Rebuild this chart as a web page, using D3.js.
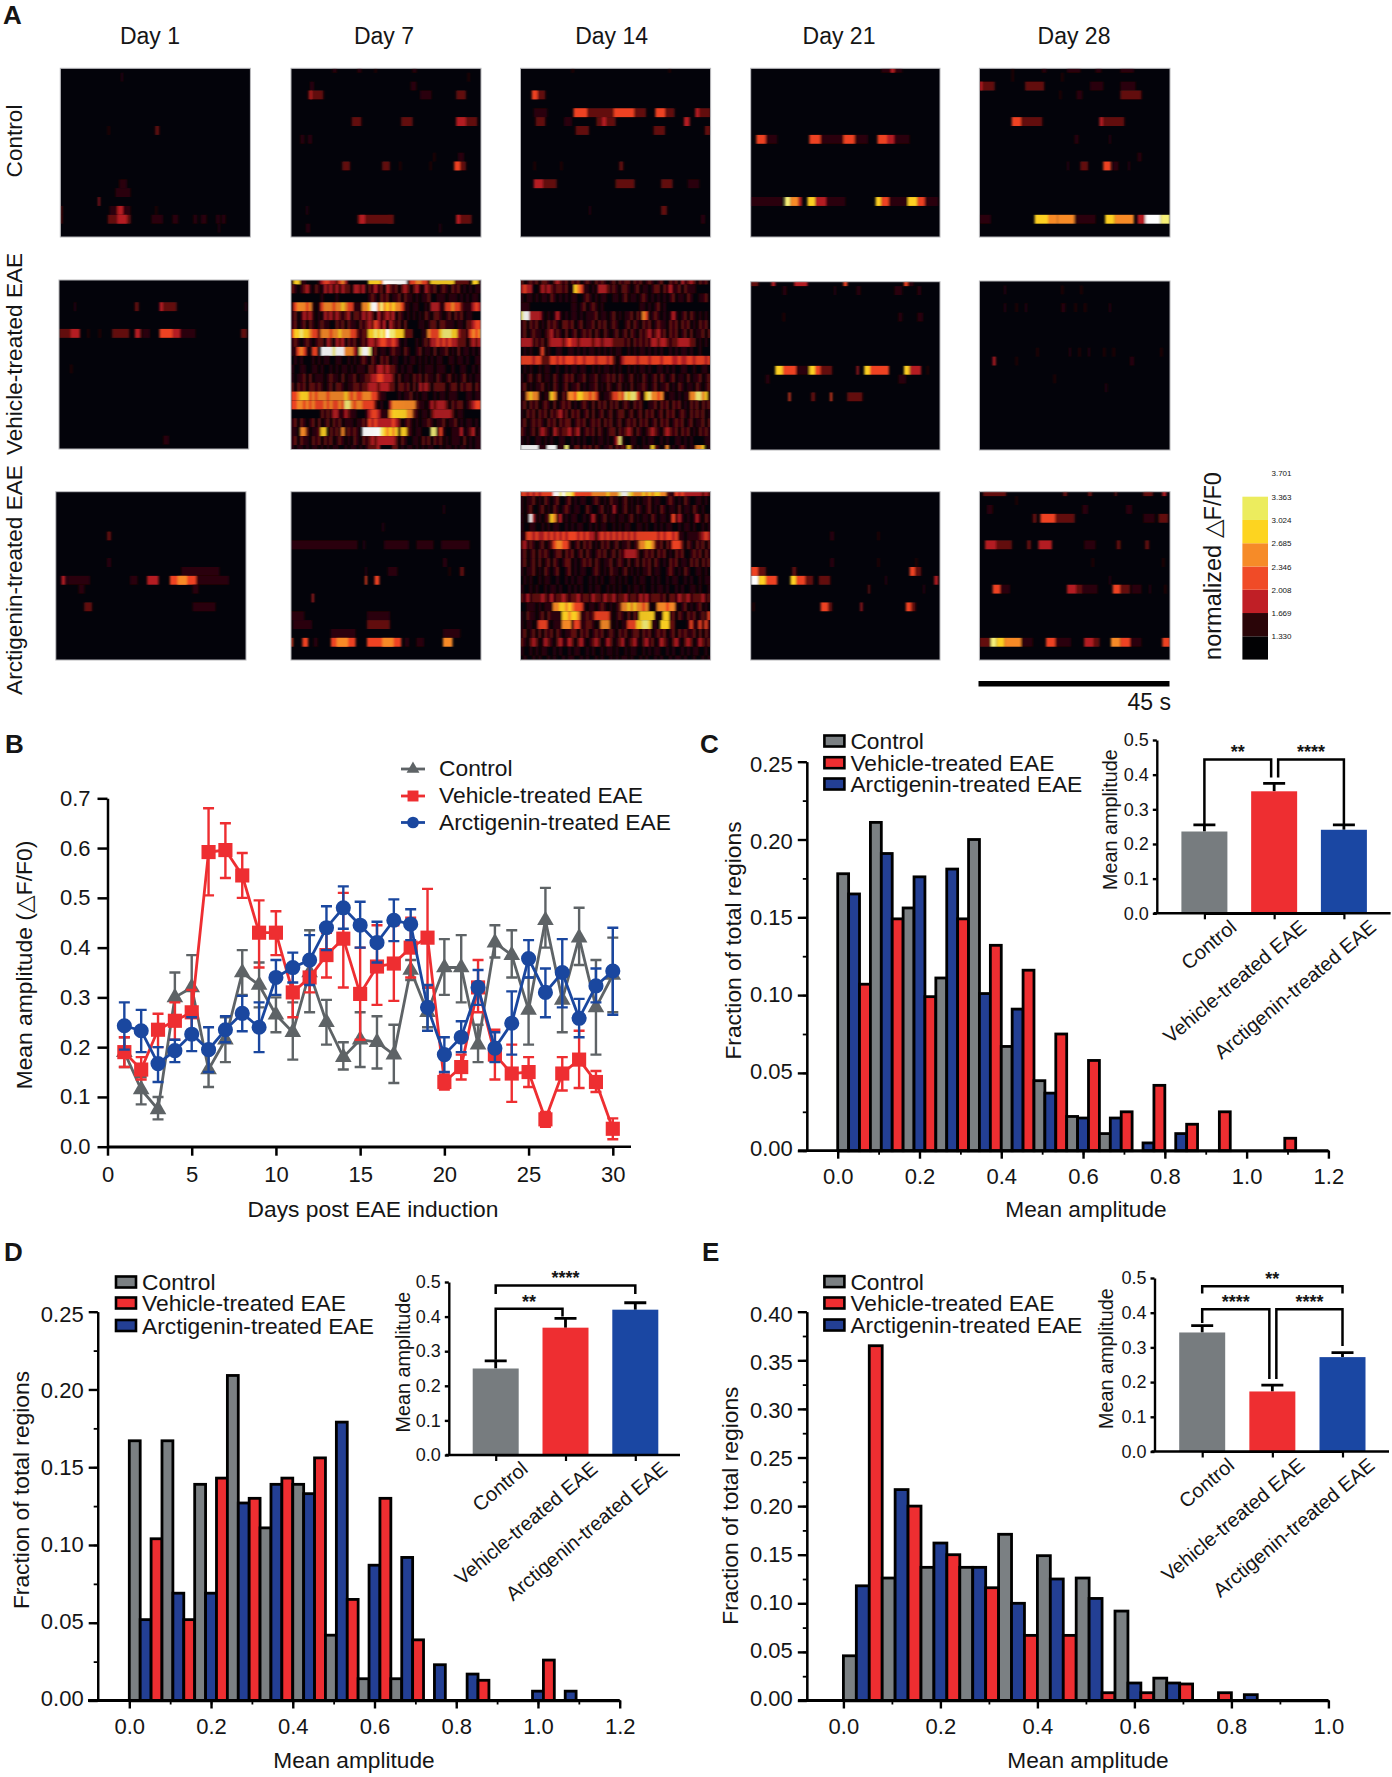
<!DOCTYPE html>
<html>
<head>
<meta charset="utf-8">
<script src="https://cdn.jsdelivr.net/npm/d3@7"></script>
<style>
body { margin: 0; background: #fff; }
svg { display: block; }
text { font-family: "Liberation Sans", Arial, sans-serif; fill: #151515; }
.bold { font-weight: bold; }
</style>
</head>
<body>
<div id="my_dataviz"></div>
<script>
// ---- labels ----
var groups = ["Control", "Vehicle-treated EAE", "Arctigenin-treated EAE"];
var dayLabels = ["Day 1", "Day 7", "Day 14", "Day 21", "Day 28"];

// ---- panel A, colour levels and colour bar ----
var heatColors = ["#03030a", "#2c0609", "#62100f", "#b41e21", "#ee4223", "#f78a28", "#fdd020", "#f5ef78", "#ffffff"];
var barTicks = [3.701, 3.363, 3.024, 2.685, 2.346, 2.008, 1.669, 1.330];
var barEdges = [0.991, 1.330, 1.669, 2.008, 2.346, 2.685, 3.024, 3.363];
var barColors = ["#020204", "#2a0508", "#c01f26", "#f04b27", "#f68b28", "#fdd420", "#ecec5e"];

// sparse panels: [region, start %, end %, level]
var ctrlD1 = [[1,32,33,1],[7,50,52,2],[7,25,26,1],[13,31,35,1],[14,29,37,1],[15,20,20.8,3],[16,26,37,1],[16,30,33,3],[16,50,51,1],[16,0,1,2],
  [17,0,1,2],[17,25,37,2],[17,30,35,3],[17,48,54,1],[17,59,62,1],[17,70,72,1],[17,74,77,1],[17,82,84,1],[17,85,87,1],[18,83,84,1]];
var ctrlD7 = [[0,22,24,1],[0,35,37,1],[0,44,45,1],[0,64,66,1],[1,93,94,1],[2,10,12,1],[2,63,66,1],[3,9,17,2],[3,10,11,3],[3,68,74,1],[3,87,92,2],
  [6,32,37,2],[6,58,64,2],[6,87,98,2],[6,87,92,3],[8,5,7,1],[8,9,11,1],[10,75,76,1],[10,88,91,1],[11,27,31,2],[11,48,52,2],[11,57,58,1],[11,73,74,1],[11,86,92,2],[11,86,89,4],
  [16,8,9,1],[17,35,54,2],[17,36,39,3],[17,51,54,2],[17,87,95,2],[17,87,89,3],[18,8,10,1],[18,78,79,1]];
var ctrlD14 = [[0,27,28,1],[0,78,79,1],[3,6,13,2],[3,6,9,4],[5,7,14,1],[5,28,49,2],[5,28,35,4],[5,49,60,4],[5,60,66,2],[5,71,81,2],[5,71,76,4],[5,92,100,2],[5,92,94,3],
  [6,8,13,2],[6,23,27,1],[6,40,50,2],[6,43,45,3],[6,86,89,3],[7,29,36,2],[7,70,76,2],[7,97,100,2],[11,7,8,1],[11,21,22,1],[11,52,54,2],
  [13,7,12,3],[13,12,19,2],[13,50,60,2],[13,74,80,2],[13,88,94,1],[16,36,37,1],[16,74,77,2],[17,95,97,1]];
var ctrlD21 = [[0,69,80,1],[0,74,76,3],[8,3,8,4],[8,8,14,1],[8,31,37,4],[8,37,49,1],[8,49,55,4],[8,55,62,1],[8,67,72,4],[8,72,76,3],[8,76,84,1],
  [15,0,17,1],[15,18,21,7],[15,21,25,5],[15,25,27,3],[15,30,34,6],[15,34,40,3],[15,40,50,1],[15,66,69,6],[15,69,73,4],[15,73,83,1],[15,83,88,6],[15,88,92,4],[15,92,99,1]];
var ctrlD28 = [[0,17,18,1],[0,33,35,1],[0,46,53,1],[0,61,64,1],[0,74,81,1],[1,17,18,1],[1,43,44,1],[2,0,8,2],[2,0,1.5,3],[2,24,34,2],[2,58,65,1],[2,74,82,1],[3,42,43,1],[3,51,54,1],[3,74,85,2],
  [6,17,22,4],[6,22,33,2],[6,63,65,3],[6,65,76,2],[8,50,52,1],[8,68,69,1],[10,83,85,1],[11,46,47,1],[11,53,57,2],[11,65,69,4],[11,70,73,1],[11,78,79,1],
  [17,0,6,1],[17,29,36,6],[17,36,41,5],[17,41,50,5],[17,50,61,1],[17,66,71,6],[17,71,81,5],[17,83,87,3],[17,87,95,8],[17,95,100,7]];
var vehD1 = [[3,8,9,1],[3,40,42,2],[3,53,55,3],[3,55,62,2],[3,98,99,1],[6,0,6,2],[6,6,11,3],[6,15,16,1],[6,21,22,1],[6,28,37,2],[6,40,43,3],[6,44,48,1],[6,53,60,4],[6,60,64,3],[6,64,72,1],[6,96,99,2],[10,6,7,1],[18,55,58,1]];
var vehD21 = [[0,0,4,2],[0,11,13,3],[0,23,30,3],[0,49,51,4],[0,81,83,4],[0,83,86,1],[1,17,19,1],[1,44,45,1],[1,56,58,1],[1,76,80,1],[1,88,90,1],[4,17,18,1],[4,78,80,1],[4,88,91,1],
  [10,13,17,6],[10,17,24,4],[10,24,31,1],[10,31,34,6],[10,34,37,4],[10,37,43,2],[10,56,57,3],[10,60,63,6],[10,63,73,4],[10,81,84,6],[10,84,90,3],[10,93,94,1],[11,8,10,1],[11,78,82,1],
  [13,20,21,4],[13,32,34,2],[13,42,43,4],[13,51,59,2]];
var vehD28 = [[1,13,14,1],[1,43,44,1],[1,53,54,1],[3,13,14,1],[3,19,20,1],[3,24,25,1],[3,43,45,1],[3,50,51,1],[3,55,56,1],[3,68,69,1],[8,30,31,1],[8,47,48,1],[8,52,53,1],[8,57,58,1],[8,65,66,1],[8,70,71,1],[8,95,96,1],
  [9,7,8.5,3],[9,19,20,1],[9,79,81,1],[11,39,40,1],[12,66,67,1]];
var arcD1 = [[5,27,29,2],[8,27,29,1],[9,66,86,1],[10,3,5,3],[10,6,18,1],[10,39,43,1],[10,48,54,3],[10,60,74,4],[10,64,69,5],[10,74,91,1],[11,12,15,1],[11,72,75,1],[13,15,19,2],[13,72,84,1]];
var arcD7 = [[2,80,81,1],[4,48,49,1],[6,0,35,1],[6,38,39,1],[6,49,62,1],[6,66,75,1],[6,79,94,1],[8,80,82,1],[9,39,40,1],[9,51,56,1],[9,83,84,1],[9,89,91,2],[10,39,40,4],[10,44,46.5,4],[12,11,12,3],
  [14,0,7,1],[14,40,52,1],[15,1,11,1],[15,40,52,2],[16,21,34,1],[16,80,89,1],[17,0,1,4],[17,6,9,4],[17,12,14,1],[17,21,34,4],[17,24,30,5],[17,40,58,4],[17,48,54,5],[17,60,62,1],[17,66,70,1],[17,80,85,5]];
var arcD21 = [[5,42,44,1],[5,67,68,1],[8,42,44,1],[8,67,68,1],[8,87,88,1],[9,0,4,4],[9,4,8,2],[9,22,24,2],[9,84,87,4],[9,87,90,2],[10,0,4,8],[10,4,8,6],[10,8,14,4],[10,21,24,6],[10,24,29,4],[10,29,33,2],[10,36,42,2],[10,71,72,1],[10,97,99,3],
  [11,62,63,2],[11,91,92,1],[13,1,2,1],[13,37,41,4],[13,41,43,2],[13,58,59,3],[13,82,85,4],[13,85,87,2]];
var arcD28 = [[0,2,14,2],[0,44,46,2],[0,57,59,2],[0,71,72,2],[0,86,91,2],[0,96,98,3],[1,19,20,1],[2,4,7,1],[2,54,57,1],[2,77,80,1],[3,28,30,2],[3,32,40,4],[3,40,50,2],[3,86,92,1],[3,94,99,2],
  [6,3,9,3],[6,9,17,2],[6,25,27,2],[6,31,38,3],[6,55,61,1],[6,72,74,2],[6,87,89,2],[8,59,60,1],[8,96,97,1],[10,68,69,1],
  [11,7,11,4],[11,11,16,1],[11,46,51,3],[11,51,54,2],[11,54,62,1],[11,70,74,4],[11,74,79,2],[11,80,85,1],[11,89,90,1],[11,97,98,1],
  [17,0,6,2],[17,6,9,7],[17,9,13,6],[17,13,22,5],[17,22,28,1],[17,35,40,4],[17,40,48,1],[17,55,60,3],[17,60,63,2],[17,69,74,5],[17,74,79,4],[17,79,85,1],[17,96,100,4]];

// dense panels: one string per region, one digit per time step
var vehD7 = [
  "1661100001344332453000000066665888888881445544166666666222220661",
  "2101231021032313132203323021312032120232023103212012102120101011",
  "0000000000100001000000000012102120112021101011200111011101010110",
  "1455545101455545565441115568857565655411011001033311445442111343",
  "1201323101032313212302213232031232302101010102102210120212011000",
  "1201202101211002120211021232431303212020000110122022111011022344",
  "4667665442555455655544212266767687766622200011544467776632214545",
  "1210121012203203230212012133234433431010001012133434343322202323",
  "1145410440888878885553178871201101211021001201102011201020110101",
  "0101000101011001100101012102102120110010110101010110011011010011",
  "1001100110100101011010111022133232210101100101110111001001100101",
  "1011202011101211020112011223344333202011021202110210120101201011",
  "2021202212101202210112212233323332202212020323202222012202122021",
  "4456664545554555556545445554421100001011201011001011011100011011",
  "4455454544454544547754554444201003555555552110132333202122012344",
  "0000000000212133113211000134431115666665521011023333332011000000",
  "1202101202012021201110112143433333432012101011210112011201011010",
  "1105520112660212151212108888887656561662101100077141001113012301",
  "1202110212021201210102102123233333320210011021202120101110201011",
  "1011010110101011001011010122230000220101101010110010110101101011"
];
var vehD14 = [
  "2012120221023212021201210212101202122021201210120021203123202120",
  "3433001323212212016541101033321210221012011012202131120211100000",
  "1011010110210101011001210101100110120110121010101012011021001120",
  "1110000000000000011012012101000000000000110101201000000000000000",
  "7883333101013101011010111201101201011202154012101013101202101010",
  "1202120102121022120120112021201210012021021201211021202120102120",
  "1201211012312102012012120210210120120210212312312021201202011202",
  "3333121202333323433233332332333222212021212133233212233332201010",
  "0101001401001100110101011010101011001010110101010010101101001000",
  "4444344222443434443443444344434201344443444344434443343344344434",
  "0101001011001001011011001010110101001010110100110101001100100110",
  "1012012011021012120112011201121202101201021012021012011020112012",
  "1201011201021012011201011201021012010201121012011201021011021012",
  "1156551011651021554665545410112445476774116755451011010115577561",
  "1202120121020121201012102021202120121021200112021202120102120212",
  "1021202120212312021201202012012012201201202120120212012102121201",
  "1201212102120212201212012120212012012120212012021201212012011202",
  "2101202321032122312301212021012202123202101232102321202120102121",
  "1010011010100110010101001011010137100110010110010100110101000011",
  "8888881118881117102202120210112021216201011162101501012101155601"
];
var arcD14 = [
  "4434343444488787764444445555565557887655565656655211434333333232",
  "1011201021012001201011001210102110120101011201100121010210011010",
  "1012001201021012101100210012010310120102101201021011020110210100",
  "1018301012651301011001013101201101101201011021011014131010131021",
  "1001100101011001010110010101100101011001101001010110010110100101",
  "1144343343434343444343433134343434343434444444343443411011112343",
  "2312101201245544201202120102120120112012556652120214442021021202",
  "1201202121012202120120210121201202133332012120212010212001212021",
  "1201202012021012201012120210112012102012021202101021201102120212",
  "1011201021012001201011001210102110120101011201100121010210011010",
  "0101001011001001010110010101001101010010110010100101100101001011",
  "1001010010110100101010010110010101001011010010110100101001101001",
  "2131222321312232122312213221322312231221323122212022132231222312",
  "0011101011155665654441011012101012556565545101555455101201012010",
  "1021101202111166566511212444441012102021666661016612021021201214",
  "1011014441011155514411221015551010114446677611066622000014114141",
  "1201202021202101122021201212012102120122021201212012021211202021",
  "2102320132102311320231012320132012301231023120132102310232013212",
  "1001010110010100101100101001011010010110010101100101001010110010",
  "0100101001010010110010100101001010110100101001010010110100100101"
];

// ---- panel B ----
var bDays = [1,2,3,4,5,6,7,8,9,10,11,12,13,14,15,16,17,18,19,20,21,22,23,24,25,26,27,28,29,30];
var bControl = [.19,.115,.075,.30,.32,.155,.215,.35,.325,.265,.23,.35,.25,.18,.215,.21,.185,.355,.27,.36,.36,.205,.41,.385,.275,.455,.295,.42,.28,.345];
var bControlLow = [.16,.085,.055,.25,.26,.12,.17,.305,.28,.23,.175,.27,.205,.155,.16,.157,.128,.335,.24,.305,.29,.17,.38,.34,.205,.40,.23,.365,.185,.27];
var bControlHigh = [.22,.14,.10,.35,.385,.19,.26,.395,.37,.30,.29,.435,.295,.21,.27,.262,.245,.375,.32,.417,.425,.245,.445,.435,.34,.52,.355,.48,.375,.42];
var bVehicle = [.19,.155,.235,.253,.27,.592,.596,.545,.43,.43,.31,.34,.385,.418,.307,.362,.368,.40,.42,.13,.16,.32,.185,.147,.15,.055,.147,.175,.13,.036];
var bVehicleLow = [.16,.135,.20,.215,.225,.505,.54,.50,.36,.385,.26,.31,.34,.32,.215,.285,.293,.34,.32,.115,.135,.27,.135,.09,.12,.04,.113,.118,.11,.015];
var bVehicleHigh = [.22,.18,.267,.29,.315,.68,.65,.59,.495,.473,.36,.37,.43,.51,.40,.445,.445,.46,.518,.145,.185,.375,.235,.205,.18,.07,.18,.233,.152,.057];
var bArctigenin = [.243,.233,.167,.193,.226,.195,.235,.268,.24,.34,.36,.375,.44,.48,.445,.41,.455,.447,.28,.185,.22,.32,.198,.248,.378,.31,.35,.258,.323,.353];
var bArctigeninLow = [.195,.19,.13,.17,.192,.15,.21,.232,.19,.305,.33,.325,.395,.438,.40,.37,.413,.415,.233,.15,.19,.285,.17,.185,.34,.26,.28,.22,.29,.265];
var bArctigeninHigh = [.29,.275,.20,.215,.26,.24,.262,.303,.29,.375,.39,.425,.483,.523,.492,.452,.497,.477,.325,.22,.252,.355,.23,.312,.415,.358,.417,.297,.358,.44];

// ---- histograms, one value per 0.08 wide bin ----
var cControl = [.178,.211,.156,.111,.200,.067,.045,.022,.011,0,0,0,0,0];
var cArctigenin = [.165,.191,.176,.181,.101,.091,.037,.021,.021,.005,.011,0,0,0];
var cVehicle = [.107,.149,.099,.149,.132,.116,.075,.058,.025,.042,.017,.025,0,.008];
var dControl = [.167,.167,.139,.209,.111,.139,.042,.014,.014,0,0,0,0,0];
var dArctigenin = [.052,.069,.069,.127,.139,.133,.179,.087,.092,.023,.017,0,.006,.006];
var dVehicle = [.104,.052,.143,.130,.143,.156,.065,.130,.039,0,.013,0,.026,0];
var eControl = [.046,.126,.137,.137,.171,.149,.126,.092,.023,0,0];
var eArctigenin = [.118,.217,.162,.137,.100,.125,.105,.018,.018,0,.006];
var eVehicle = [.365,.200,.150,.116,.067,.067,.008,.008,.017,.008,0];

// ---- inset bars ----
var cMeans = [.236,.352,.241], cTops = [.255,.375,.255];
var dMeans = [.25,.368,.42], dTops = [.272,.395,.44];
var eMeans = [.343,.173,.272], eTops = [.363,.191,.285];
// from group, to group, bracket height, foot heights, stars
var cComp = [[0,1,.444,.252,.392,"**"],[1,2,.444,.392,.258,"****"]];
var dComp = [[0,1,.4226,.275,.40,"**"],[0,2,.49,.465,.465,"****"]];
var eComp = [[0,1,.41,.37,.209,"****"],[1,2,.41,.209,.304,"****"],[0,2,.476,.455,.455,"**"]];

var grey = "#7b8083", red = "#ee2e31", blue = "#233f94", insetBlue = "#1a47a3";
var lineGrey = "#5e6366", lineBlue = "#1a479f";

var svg = d3.select("#my_dataviz").append("svg").attr("width", 1392).attr("height", 1777);
var defs = svg.append("defs");
defs.append("filter").attr("id", "soft").append("feGaussianBlur").attr("stdDeviation", "0.8 0.6");

// Puts a piece of text on the page, rotated around its anchor if asked
function addText(str, x, y, size, anchor, rotate, cls) {
    var t = svg.append("text").text(str)
        .attr("font-size", size)
        .attr("text-anchor", anchor || "start")
        .attr("transform", "translate(" + x + "," + y + ")" + (rotate ? " rotate(" + rotate + ")" : ""));
    if (cls) t.attr("class", cls);
    return t;
}

// ---- panel A ----
var heatColor = d3.scaleOrdinal(d3.range(9), heatColors);

function drawHeat(id, cells, x0, x1, y0, y1) {
    var t = d3.scaleLinear().domain([0, 100]).range([x0, x1]);
    var r = d3.scaleLinear().domain([0, 19]).range([y0, y1]);
    var h = r(1) - r(0);

    // dense panels come as strings, turn them into the same cell form
    if (typeof cells[0] === "string") {
        var parsed = [];
        cells.forEach(function (row, i) {
            row.split("").forEach(function (c, j) {
                parsed.push([i, j * 100 / row.length, (j + 1) * 100 / row.length, +c]);
            });
        });
        cells = parsed;
    }

    defs.append("clipPath").attr("id", id).append("rect")
        .attr("x", x0).attr("y", y0).attr("width", x1 - x0).attr("height", y1 - y0);

    var g = svg.append("g").attr("clip-path", "url(#" + id + ")");
    g.append("rect").attr("x", x0).attr("y", y0).attr("width", x1 - x0).attr("height", y1 - y0).attr("fill", heatColors[0]);
    g.append("g").attr("filter", "url(#soft)")
        .selectAll("rect").data(cells.filter(function (d) { return d[3] > 0; })).join("rect")
        .attr("x", function (d) { return t(d[1]); })
        .attr("width", function (d) { return t(d[2]) - t(d[1]); })
        .attr("y", function (d) { return r(d[0]) - h / 2; })
        .attr("height", h)
        .attr("fill", function (d) { return heatColor(d[3]); });
    svg.append("rect").attr("x", x0).attr("y", y0).attr("width", x1 - x0).attr("height", y1 - y0)
        .attr("fill", "none").attr("stroke", "#b5b5b8").attr("stroke-width", 1);
}

var cols = [[291, 481], [520.5, 710.6], [750.7, 940], [979.4, 1170]];
drawHeat("h00", ctrlD1, 60.3, 250.4, 68.3, 237);
drawHeat("h01", ctrlD7, cols[0][0], cols[0][1], 68.3, 237);
drawHeat("h02", ctrlD14, cols[1][0], cols[1][1], 68.3, 237);
drawHeat("h03", ctrlD21, cols[2][0], cols[2][1], 68.3, 237);
drawHeat("h04", ctrlD28, cols[3][0], cols[3][1], 68.3, 237);
drawHeat("h10", vehD1, 59, 248.7, 280, 449);
drawHeat("h11", vehD7, cols[0][0], cols[0][1], 280, 449.5);
drawHeat("h12", vehD14, cols[1][0], cols[1][1], 280, 449.5);
drawHeat("h13", vehD21, cols[2][0], cols[2][1], 281.7, 450);
drawHeat("h14", vehD28, cols[3][0], cols[3][1], 281, 450);
drawHeat("h20", arcD1, 55.8, 246, 491.7, 660);
drawHeat("h21", arcD7, cols[0][0], cols[0][1], 491.7, 660);
drawHeat("h22", arcD14, cols[1][0], cols[1][1], 491.7, 660);
drawHeat("h23", arcD21, cols[2][0], cols[2][1], 491.7, 660);
drawHeat("h24", arcD28, cols[3][0], cols[3][1], 491.7, 660);

[150, 384, 611.6, 839, 1074].forEach(function (x, i) {
    addText(dayLabels[i], x, 44, 23, "middle");
});
addText(groups[0], 22, 141, 22.6, "middle", -90);
addText(groups[1], 22, 354, 22.6, "middle", -90);
addText(groups[2], 22, 580, 22.6, "middle", -90);

// scale bar and colour bar
svg.append("rect").attr("x", 978.5).attr("y", 681).attr("width", 191).attr("height", 5.5).attr("fill", "#000");
addText("45 s", 1171, 710, 23, "end");
addText("normalized △F/F0", 1221, 566, 23.5, "middle", -90);

var barY = d3.scaleLinear().domain([1.330, 3.363]).range([636.3, 496.7]);
barColors.forEach(function (c, i) {
    var top = barY(i + 1 < barEdges.length ? barEdges[i + 1] : barEdges[i]);
    svg.append("rect").attr("x", 1242.4).attr("width", 25.6)
        .attr("y", top).attr("height", barY(barEdges[i]) - top).attr("fill", c);
});
barTicks.forEach(function (v) {
    addText(v.toFixed(3), 1271.5, barY(v) + 3, 8, "start");
});

// ---- panel letters ----
addText("A", 3, 24, 26, "start", 0, "bold");
addText("B", 5, 753, 26, "start", 0, "bold");
addText("C", 700, 753, 26, "start", 0, "bold");
addText("D", 4, 1261, 26, "start", 0, "bold");
addText("E", 702, 1261, 26, "start", 0, "bold");

// Restyles an axis group: heavy black lines, tick label size
function styleAxis(g, size, width) {
    g.selectAll("path").attr("stroke", "#000").attr("stroke-width", width).attr("fill", "none");
    g.selectAll("line").attr("stroke", "#000").attr("stroke-width", width);
    g.selectAll("text").attr("font-size", size).attr("font-family", null);
}

// ---- panel B ----
(function () {
    var x = d3.scaleLinear().domain([0, 30]).range([107.5, 612.8]);
    var y = d3.scaleLinear().domain([0, 0.7]).range([1146.7, 798.3]);

    var gx = svg.append("g").attr("transform", "translate(0,1146.7)")
        .call(d3.axisBottom(x).tickValues([0, 5, 10, 15, 20, 25, 30]).tickFormat(d3.format("d")).tickSize(9).tickPadding(11).tickSizeOuter(0));
    styleAxis(gx, 22, 2.5);
    svg.append("line").attr("x1", x(0)).attr("x2", 631).attr("y1", y(0)).attr("y2", y(0)).attr("stroke", "#000").attr("stroke-width", 2.5);
    var gy = svg.append("g").attr("transform", "translate(107.5,0)")
        .call(d3.axisLeft(y).ticks(7).tickFormat(d3.format(".1f")).tickSize(10).tickPadding(7).tickSizeOuter(0));
    styleAxis(gy, 22, 2.5);

    addText("Days post EAE induction", 373, 1216.7, 22.8, "middle");
    addText("Mean amplitude (△F/F0)", 32, 965, 22.8, "middle", -90);

    var line = d3.line().x(function (d, i) { return x(bDays[i]); }).y(function (d) { return y(d); });

    function series(mean, low, high, color, marker) {
        var g = svg.append("g");
        g.append("path").attr("d", line(mean)).attr("fill", "none").attr("stroke", color).attr("stroke-width", 2.8);
        bDays.forEach(function (day, i) {
            var px = x(day);
            g.append("path")
                .attr("d", "M" + px + "," + y(low[i]) + "V" + y(high[i])
                    + "M" + (px - 5.5) + "," + y(low[i]) + "h11"
                    + "M" + (px - 5.5) + "," + y(high[i]) + "h11")
                .attr("stroke", color).attr("stroke-width", 2.4).attr("fill", "none");
        });
        g.selectAll(".m").data(mean).join("path")
            .attr("d", d3.symbol().type(marker.type).size(marker.size))
            .attr("transform", function (d, i) { return "translate(" + x(bDays[i]) + "," + y(d) + ")"; })
            .attr("fill", color);
    }

    var tri = {type: d3.symbolTriangle, size: 120}, sq = {type: d3.symbolSquare, size: 200}, ci = {type: d3.symbolCircle, size: 180};
    series(bControl, bControlLow, bControlHigh, lineGrey, tri);
    series(bVehicle, bVehicleLow, bVehicleHigh, red, sq);
    series(bArctigenin, bArctigeninLow, bArctigeninHigh, lineBlue, ci);

    [[lineGrey, tri, 769], [red, sq, 796], [lineBlue, ci, 822.5]].forEach(function (d, i) {
        svg.append("line").attr("x1", 401).attr("x2", 425).attr("y1", d[2]).attr("y2", d[2]).attr("stroke", d[0]).attr("stroke-width", 2.8);
        svg.append("path").attr("d", d3.symbol().type(d[1].type).size(d[1].size * 0.6)())
            .attr("transform", "translate(413," + d[2] + ")").attr("fill", d[0]);
        addText(groups[i], 439, d[2] + 7, 22.8);
    });
})();

// Draws one histogram panel with its legend, axes and titles
function drawHist(o) {
    var x = d3.scaleLinear().domain([0, o.xMax]).range([o.x0, o.x1]);
    var y = d3.scaleLinear().domain([0, o.yMax]).range([o.y0, o.y1]);
    var barW = 0.08 / 3;

    var minorX = d3.range(0, o.xMax + 0.001, 0.1);
    var minorY = d3.range(0, o.yMax + 0.001, 0.025);

    // bars are drawn bin by bin so neighbours share their outline
    o.control.forEach(function (c, k) {
        [[c, grey], [o.arctigenin[k], blue], [o.vehicle[k], red]].forEach(function (b, j) {
            if (b[0] <= 0) return;
            var left = k * 0.08 + j * barW;
            svg.append("rect").attr("x", x(left)).attr("width", x(left + barW) - x(left))
                .attr("y", y(b[0])).attr("height", y(0) - y(b[0]))
                .attr("fill", b[1]).attr("stroke", "#000").attr("stroke-width", 2.8);
        });
    });

    var gxm = svg.append("g").attr("transform", "translate(0," + o.y0 + ")")
        .call(d3.axisBottom(x).tickValues(minorX).tickFormat("").tickSize(4).tickSizeOuter(0));
    styleAxis(gxm, 0, 1.8);
    gxm.selectAll("text").remove();
    var gx = svg.append("g").attr("transform", "translate(0," + o.y0 + ")")
        .call(d3.axisBottom(x).tickValues(d3.range(0, o.xMax + 0.001, 0.2)).tickFormat(d3.format(".1f")).tickSize(8).tickPadding(10).tickSizeOuter(0));
    styleAxis(gx, 22, 2.4);
    svg.append("line").attr("x1", o.xLeft).attr("x2", o.x1).attr("y1", o.y0).attr("y2", o.y0).attr("stroke", "#000").attr("stroke-width", 2.8);

    var gym = svg.append("g").attr("transform", "translate(" + o.yAxisX + ",0)")
        .call(d3.axisLeft(y).tickValues(minorY).tickFormat("").tickSize(4).tickSizeOuter(0));
    styleAxis(gym, 0, 1.8);
    gym.selectAll("text").remove();
    var gy = svg.append("g").attr("transform", "translate(" + o.yAxisX + ",0)")
        .call(d3.axisLeft(y).tickValues(d3.range(0, o.yMax + 0.001, 0.05)).tickFormat(d3.format(".2f")).tickSize(9).tickPadding(5).tickSizeOuter(0));
    styleAxis(gy, 22, 2.4);
    // the labels sit a bit closer together than the ticks in the figure
    gy.selectAll("text").attr("dy", null)
        .attr("y", function (d) { return 7.5 + (d / o.yMax) * 5 - 3; });

    addText("Mean amplitude", o.titleX, o.titleY, 22.7, "middle");
    addText("Fraction of total regions", o.yTitleX, o.yTitleY, 22.8, "middle", -90);

    // legend
    [grey, red, blue].forEach(function (c, i) {
        svg.append("rect").attr("x", o.legX).attr("y", o.legY[i] - 5.5).attr("width", 20).attr("height", 11)
            .attr("fill", c).attr("stroke", "#000").attr("stroke-width", 2.6);
        addText(groups[i], o.legX + 26, o.legY[i] + 8, 22.8);
    });

    drawInset(o.inset);
}

// Draws the small mean +/- sem bar chart with significance brackets
function drawInset(o) {
    var y = d3.scaleLinear().domain([0, 0.5]).range([o.y0, o.y1]);
    var x = d3.scalePoint().domain(groups).range([o.bar0, o.bar2]);
    var colors = ["#777c7f", red, insetBlue];
    var barW = 46;

    groups.forEach(function (g, i) {
        svg.append("path")
            .attr("d", "M" + x(g) + "," + y(o.means[i]) + "V" + y(o.tops[i]) + "M" + (x(g) - 11) + "," + y(o.tops[i]) + "h22")
            .attr("stroke", "#000").attr("stroke-width", 2.8).attr("fill", "none");
        svg.append("rect").attr("x", x(g) - barW / 2).attr("width", barW)
            .attr("y", y(o.means[i])).attr("height", o.y0 - y(o.means[i])).attr("fill", colors[i]);
    });

    var gx = svg.append("g").attr("transform", "translate(0," + o.y0 + ")")
        .call(d3.axisBottom(x).tickSize(6).tickSizeOuter(0));
    styleAxis(gx, 20, 2.2);
    gx.selectAll("text")
        .attr("text-anchor", "end").attr("y", 0).attr("dy", 0)
        .attr("transform", "translate(33,16) rotate(-40)")
        .attr("fill", "#333");
    svg.append("line").attr("x1", o.axisX - 3).attr("x2", o.xEnd).attr("y1", o.y0).attr("y2", o.y0).attr("stroke", "#000").attr("stroke-width", 2.6);

    var gy = svg.append("g").attr("transform", "translate(" + o.axisX + ",0)")
        .call(d3.axisLeft(y).ticks(5).tickFormat(d3.format(".1f")).tickSize(4).tickPadding(4).tickSizeOuter(0));
    styleAxis(gy, 18, 2.4);

    addText("Mean amplitude", o.yTitleX, o.yTitleY, 19.8, "middle", -90);

    o.comp.forEach(function (c) {
        var xa = x(groups[c[0]]), xb = x(groups[c[1]]);
        // brackets meeting on the middle bar stay a little apart
        if (c[1] === 1) xb -= 3;
        if (c[0] === 1) xa += 4;
        svg.append("path")
            .attr("d", "M" + xa + "," + y(c[3]) + "V" + y(c[2]) + "H" + xb + "V" + y(c[4]))
            .attr("fill", "none").attr("stroke", "#000").attr("stroke-width", 2.5);
        addText(c[5], (xa + xb) / 2, y(c[2]) - 1, 18, "middle", 0, "bold");
    });
}

drawHist({
    control: cControl, arctigenin: cArctigenin, vehicle: cVehicle, xMax: 1.2, yMax: 0.25,
    x0: 837.7, x1: 1328.4, y0: 1150.7, y1: 761.7, xLeft: 798, yAxisX: 806.8,
    titleX: 1086, titleY: 1217, yTitleX: 740.6, yTitleY: 940.5,
    legX: 824.4, legY: [741, 762.7, 784],
    inset: {means: cMeans, tops: cTops, comp: cComp, y0: 913.3, y1: 740, bar0: 1204.4, bar2: 1343.9, axisX: 1156.8, xEnd: 1390.6, yTitleX: 1117, yTitleY: 819.7}
});
drawHist({
    control: dControl, arctigenin: dArctigenin, vehicle: dVehicle, xMax: 1.2, yMax: 0.25,
    x0: 129.3, x1: 619.7, y0: 1700.5, y1: 1311.7, xLeft: 88, yAxisX: 97.7,
    titleX: 354, titleY: 1768, yTitleX: 29, yTitleY: 1490,
    legX: 116, legY: [1282, 1303, 1325.5],
    inset: {means: dMeans, tops: dTops, comp: dComp, y0: 1455, y1: 1282, bar0: 495.7, bar2: 635.3, axisX: 448.8, xEnd: 680, yTitleX: 410, yTitleY: 1362}
});
drawHist({
    control: eControl, arctigenin: eArctigenin, vehicle: eVehicle, xMax: 1.0, yMax: 0.40,
    x0: 843.4, x1: 1328.4, y0: 1700.5, y1: 1311.7, xLeft: 798, yAxisX: 806.8,
    titleX: 1088, titleY: 1768, yTitleX: 737.5, yTitleY: 1505.6,
    legX: 824.4, legY: [1281.6, 1303, 1325],
    inset: {means: eMeans, tops: eTops, comp: eComp, y0: 1451.5, y1: 1278, bar0: 1202.2, bar2: 1342.5, axisX: 1154.5, xEnd: 1389, yTitleX: 1112.6, yTitleY: 1358.6}
});
</script>
</body>
</html>
